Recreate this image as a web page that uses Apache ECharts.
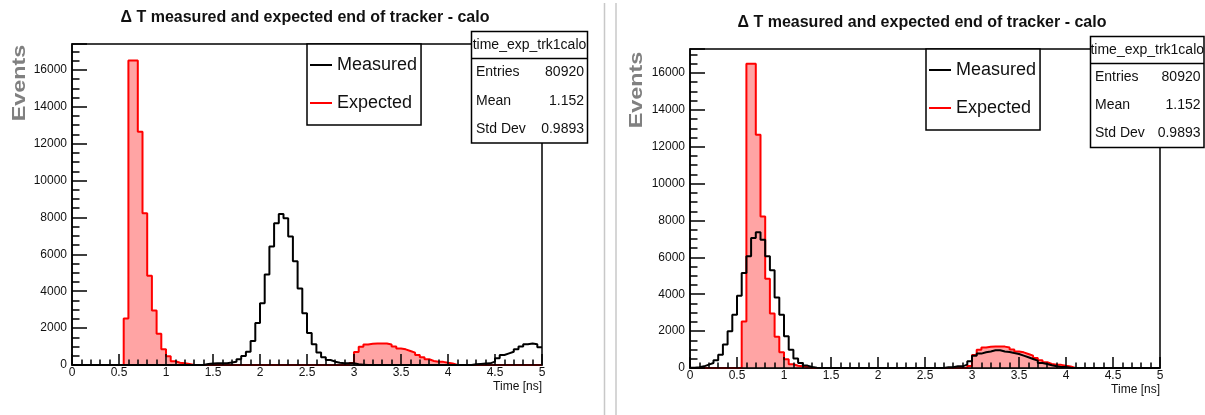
<!DOCTYPE html>
<html>
<head>
<meta charset="utf-8">
<title>Delta T measured and expected</title>
<script src="https://cdn.jsdelivr.net/npm/echarts@6.0.0/dist/echarts.min.js"></script>
<style>
  html, body { margin: 0; padding: 0; background: #fff; }
  #chart { width: 1205px; height: 415px; }
</style>
</head>
<body>
<div id="chart"></div>
<script>
// histogram binning: 100 bins from 0 to 5 ns
var binWidth = 0.05;
var nBins = 100;
var xTicks = [0, 0.5, 1, 1.5, 2, 2.5, 3, 3.5, 4, 4.5, 5];

// expected (time_exp_trk1calo), same histogram in both pads
var expectedCounts = [
  0, 0, 0, 0, 0, 0, 0, 0, 0, 0,
  0, 2520, 16500, 16500, 12650, 8220, 4840, 2950, 1690, 850,
  480, 200, 120, 90, 50, 0, 0, 0, 0, 0,
  0, 0, 0, 0, 0, 0, 0, 0, 0, 0,
  0, 0, 0, 0, 0, 0, 0, 0, 0, 0,
  0, 0, 0, 0, 0, 0, 0, 0, 0, 110,
  700, 990, 1110, 1150, 1170, 1170, 1160, 1110, 1000, 890,
  850, 760, 670, 540, 420, 310, 220, 180, 170, 120,
  80, 0, 0, 0, 0, 0, 0, 0, 0, 0,
  0, 0, 0, 0, 0, 0, 0, 0, 0, 0
];

// measured, left pad
var measuredLeft = [
  0, 0, 0, 0, 0, 0, 0, 0, 0, 0,
  0, 0, 0, 0, 0, 0, 0, 0, 0, 0,
  0, 0, 0, 0, 0, 0, 0, 0, 50, 80,
  90, 90, 100, 130, 180, 310, 490, 720, 1300, 2280,
  3350, 4900, 6420, 7680, 8180, 7960, 6960, 5630, 4140, 2800,
  1730, 1130, 680, 420, 270, 180, 120, 90, 90, 90,
  40, 20, 0, 0, 0, 0, 0, 0, 0, 0,
  0, 0, 0, 0, 0, 0, 0, 0, 0, 0,
  0, 0, 0, 0, 0, 40, 60, 80, 90, 180,
  360, 540, 630, 720, 850, 1000, 1120, 1160, 1120, 960
];

// measured, right pad
var measuredRight = [
  20, 40, 90, 180, 270, 420, 720, 1270, 1990, 2890,
  3920, 5150, 6060, 7050, 7360, 6960, 6060, 5300, 3830, 2890,
  1720, 990, 510, 270, 130, 50, 20, 0, 0, 0,
  0, 0, 0, 0, 0, 0, 0, 0, 0, 0,
  0, 0, 0, 0, 0, 0, 0, 0, 0, 0,
  0, 0, 0, 0, 40, 40, 90, 90, 180, 360,
  670, 780, 850, 900, 960, 960, 900, 870, 810, 760,
  670, 580, 490, 400, 270, 220, 145, 90, 55, 55,
  20, 0, 0, 0, 0, 0, 0, 0, 0, 0,
  0, 0, 0, 0, 0, 0, 0, 0, 0, 0
];

var statLabels = ['Entries', 'Mean', 'Std Dev'];
var statValues = ['80920', '1.152', '0.9893'];
var histName = 'time_exp_trk1calo';
var titleText = '\u0394 T measured and expected end of tracker - calo';

var font = "'Liberation Sans', Arial, Helvetica, sans-serif";

// step data: low edge of each bin + closing point at the upper edge
function toSteps(counts) {
  var pts = [];
  for (var i = 0; i < nBins; i++) {
    pts.push([+(i * binWidth).toFixed(2), counts[i]]);
  }
  pts.push([+(nBins * binWidth).toFixed(2), counts[nBins - 1]]);
  return pts;
}

// pad layouts (pixels)
var pads = [
  {left: 72, top: 44, height: 321, ymax: 17400, titleX: 305, titleY: 10,
   legendX: 307, statX: 471.5, statY: 31.5, statW: 116, statH: 111.5,
   eventsX: 20, eventsY: 83, measured: measuredLeft},
  {left: 690, top: 49, height: 319, ymax: 17300, titleX: 922, titleY: 15,
   legendX: 926, statX: 1090.5, statY: 36.5, statW: 113.5, statH: 111,
   eventsX: 637, eventsY: 90, measured: measuredRight}
];

var chart = echarts.init(document.getElementById('chart'), null, {renderer: 'canvas'});

var option = {
  backgroundColor: '#fff',
  animation: false,
  textStyle: {fontFamily: font},
  title: [],
  legend: [],
  grid: [],
  xAxis: [],
  yAxis: [],
  series: [],
  graphic: []
};

pads.forEach(function (p, k) {
  option.title.push({
    text: titleText,
    left: p.titleX,
    top: p.titleY,
    textAlign: 'center',
    padding: 0,
    textStyle: {fontSize: 16, fontWeight: 'bold', color: '#111', fontFamily: font}
  });

  option.grid.push({
    left: p.left, top: p.top, width: 470, height: p.height,
    show: true, borderColor: '#000', borderWidth: 1.5,
    backgroundColor: 'transparent'
  });

  option.xAxis.push({
    type: 'value', gridIndex: k, min: 0, max: 5, interval: 0.5, z: 5,
    name: 'Time [ns]', nameLocation: 'end', nameGap: 0,
    nameTextStyle: {align: 'right', verticalAlign: 'top', padding: [16, 0, 0, 0],
                    fontSize: 12, color: '#111', fontFamily: font},
    axisLine: {show: true, lineStyle: {color: '#000', width: 1.5}},
    axisTick: {show: true, inside: true, length: 11, lineStyle: {color: '#000', width: 1.5}},
    minorTick: {show: true, splitNumber: 5, length: 5.5, lineStyle: {color: '#000', width: 1.5}},
    axisLabel: {margin: 2, fontSize: 12, color: '#111', fontFamily: font,
                showMinLabel: true, showMaxLabel: true,
                formatter: function (v) { return xTicks.indexOf(+v.toFixed(2)) >= 0 ? String(+v.toFixed(2)) : ''; }},
    splitLine: {show: false}
  });

  option.yAxis.push({
    type: 'value', gridIndex: k, min: 0, max: p.ymax, interval: 2000, z: 5,
    axisLine: {show: true, lineStyle: {color: '#000', width: 1.5}},
    axisTick: {show: true, inside: true, length: 15, lineStyle: {color: '#000', width: 1.5}},
    minorTick: {show: true, splitNumber: 4, length: 7.5, lineStyle: {color: '#000', width: 1.5}},
    axisLabel: {margin: 5, fontSize: 12, color: '#111', fontFamily: font, showMaxLabel: false,
                formatter: function (v) { return String(v); }},
    splitLine: {show: false}
  });

  option.series.push({
    name: 'Expected', type: 'line', step: 'end', xAxisIndex: k, yAxisIndex: k,
    data: toSteps(expectedCounts), symbol: 'none', color: '#ff0000',
    lineStyle: {color: '#ff0000', width: 2},
    areaStyle: {color: '#ffa4a4', opacity: 1},
    z: 2
  });
  option.series.push({
    name: 'Measured', type: 'line', step: 'end', xAxisIndex: k, yAxisIndex: k,
    data: toSteps(p.measured), symbol: 'none', color: '#000',
    lineStyle: {color: '#000', width: 2},
    z: 3
  });

  option.legend.push({
    left: p.legendX, top: p.top, orient: 'vertical',
    icon: 'rect', itemWidth: 22, itemHeight: 2, itemGap: 20,
    padding: [12, 4, 13, 3],
    backgroundColor: '#fff', borderColor: '#000', borderWidth: 1.5, borderRadius: 0,
    selectedMode: false, z: 10,
    textStyle: {fontSize: 18, color: '#111', fontFamily: font},
    data: ['Measured', 'Expected']
  });

  // y axis title
  option.graphic.push({
    type: 'text', x: p.eventsX, y: p.eventsY, rotation: Math.PI / 2, scaleX: 1.3, z: 10,
    style: {text: 'Events', font: 'bold 18px ' + font, fill: '#808080',
            align: 'center', verticalAlign: 'middle'}
  });

  // statistics box
  var rowH = (p.statH - 27) / 3;
  var stat = [
    {type: 'rect', shape: {x: p.statX, y: p.statY, width: p.statW, height: p.statH},
     style: {fill: '#fff', stroke: '#000', lineWidth: 1.5}},
    {type: 'line', shape: {x1: p.statX, y1: p.statY + 27, x2: p.statX + p.statW, y2: p.statY + 27},
     style: {stroke: '#000', lineWidth: 1.5}},
    {type: 'text', x: p.statX + p.statW / 2, y: p.statY + 13.5,
     style: {text: histName, font: '14px ' + font, fill: '#111', align: 'center', verticalAlign: 'middle'}}
  ];
  statLabels.forEach(function (lab, i) {
    var yy = p.statY + 27 + rowH * (i + 0.5);
    stat.push({type: 'text', x: p.statX + 4.5, y: yy,
      style: {text: lab, font: '14px ' + font, fill: '#111', align: 'left', verticalAlign: 'middle'}});
    stat.push({type: 'text', x: p.statX + p.statW - 3.5, y: yy,
      style: {text: statValues[i], font: '14px ' + font, fill: '#111', align: 'right', verticalAlign: 'middle'}});
  });
  option.graphic.push({type: 'group', z: 10, children: stat});
});

// pad separators
option.graphic.push({type: 'line', z: 10, shape: {x1: 604.5, y1: 3, x2: 604.5, y2: 415},
  style: {stroke: '#c8c8c8', lineWidth: 1.5}});
option.graphic.push({type: 'line', z: 10, shape: {x1: 616, y1: 3, x2: 616, y2: 415},
  style: {stroke: '#c8c8c8', lineWidth: 1.5}});

chart.setOption(option);
</script>
</body>
</html>
